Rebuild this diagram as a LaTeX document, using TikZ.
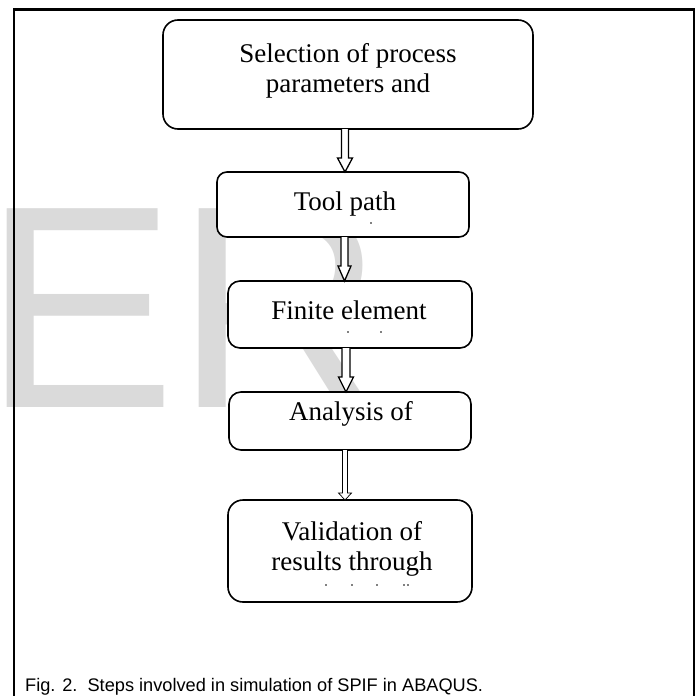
\documentclass[tikz,border=0pt]{standalone}
\usepackage{fontspec}
\setmainfont{Liberation Serif}
\newfontfamily\capfont{Liberation Sans}
\usetikzlibrary{calc}
\definecolor{wmgray}{RGB}{218,218,218}
\tikzset{
  box/.style={draw=black, line width=1.6pt, fill=white, rectangle, inner sep=0pt, outer sep=0pt},
  boxtext/.style={anchor=base, inner sep=0pt, font=\fontsize{27}{30}\selectfont},
  arrowline/.style={draw=black, line width=1.3pt, fill=white, line join=miter},
  thinarrow/.style={draw=black, line width=0.7pt, fill=white, line join=miter},
  speck/.style={fill=black, draw=none},
}
\newcommand\hollowarrow[7]{% #1 style, #2 from, #3 to, #4 x, #5 shaft half, #6 head half, #7 head length
  \path[#1] let \p1=(#2.south), \p2=(#3.north) in
   (#4pt-#5pt,\y1) -- (#4pt-#5pt,\y2+#7pt) -- (#4pt-#6pt,\y2+#7pt) -- (#4pt,\y2)
   -- (#4pt+#6pt,\y2+#7pt) -- (#4pt+#5pt,\y2+#7pt) -- (#4pt+#5pt,\y1);
}
\begin{document}
\begin{tikzpicture}[x=1pt,y=-1pt]
\useasboundingbox (0,0) rectangle (697,696);
\fill[white] (0,0) rectangle (697,696);
% watermark
\node[anchor=base west, inner sep=0pt, text=wmgray, font=\capfont\fontsize{289}{289}\selectfont] (wm) at (-17,407) {ER};
% frame
\draw[line width=2.2pt, line join=miter] (14,700) -- (14,9.5) -- (694,9.5) -- (694,700);
% boxes (positions)
\path (348,74.5) node[box, rounded corners=15pt, minimum width=370pt, minimum height=109pt] (b1) {};
\path (343,204.5) node[box, rounded corners=10pt, minimum width=252pt, minimum height=65pt] (b2) {};
\path (350,314.5) node[box, rounded corners=12pt, minimum width=244pt, minimum height=67pt] (b3) {};
\path (350,421) node[box, rounded corners=12pt, minimum width=242pt, minimum height=58pt] (b4) {};
\path (350,551) node[box, rounded corners=15pt, minimum width=244pt, minimum height=102pt] (b5) {};
% arrows
\hollowarrow{arrowline}{b1}{b2}{345}{3.5}{7.5}{14}
\hollowarrow{arrowline}{b2}{b3}{344.5}{3.5}{6.5}{15}
\hollowarrow{arrowline}{b3}{b4}{346}{4}{7.5}{15}
\hollowarrow{thinarrow}{b4}{b5}{345}{2.5}{6.5}{7}
% redraw boxes on top of arrow ends
\foreach \b in {b1,b2,b3,b4,b5} {}
% texts
\node[boxtext] (t1a) at (348,62) {Selection of process};
\node[boxtext] (t1b) at (348,92) {parameters and};
\node[boxtext] (t2a) at (345,210) {Tool path};
\node[boxtext] (t3a) at (349,319) {Finite element};
\node[boxtext] (t4a) at (351,420) {Analysis of};
\node[boxtext] (t5a) at (352,540) {Validation of};
\node[boxtext] (t5b) at (352,570) {results through};
% clipped remnants of hidden lines
\fill[speck] (371,223) circle (0.9);
\fill[speck] (348,332) circle (0.9);
\fill[speck] (381,332) circle (0.9);
\fill[speck] (326,585) circle (0.9);
\fill[speck] (352,585) circle (0.9);
\fill[speck] (377,585) circle (0.9);
\fill[speck] (404,585) circle (0.9);
\fill[speck] (408,585) circle (0.9);
% caption
\node[anchor=base west, inner sep=0pt, font=\capfont\fontsize{18.2}{20}\selectfont] (cap) at (25,691) {Fig. 2.\ \ Steps involved in simulation of SPIF in ABAQUS.};
\end{tikzpicture}
\end{document}
